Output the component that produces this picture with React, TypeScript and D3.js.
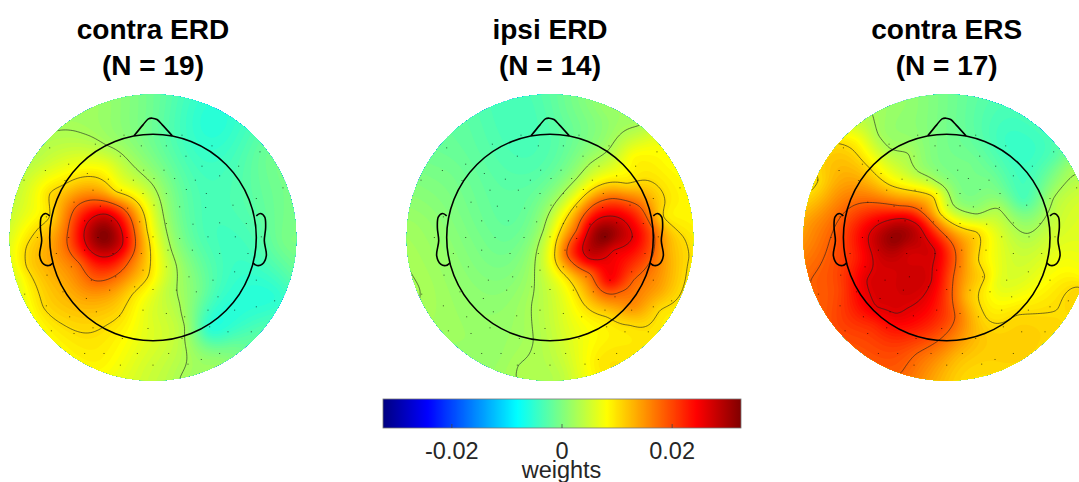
import React, { useMemo } from "react";
import * as d3 from "d3";

const W = 1079, H = 482;
const FONT = "'Liberation Sans', Arial, sans-serif";

// Colour limits and contour levels
const colorLimit = 0.0325;
const contourLevels = [0.003, 0.0105, 0.0185, 0.0265];
const colorTicks = [-0.02, 0, 0.02];

// Samples of the weights: [x, y, weight], in read-off units (disc radius = 430)
const L0 = contourLevels[0], L1 = contourLevels[1], L2 = contourLevels[2], L3 = contourLevels[3];
const contraErd: number[][] = [
  [170,122,L0],[250,130,L0],[320,165,L0],[390,215,L0],[460,285,L0],[490,370,L0],[515,480,L0],[530,525,L0],[540,640,L0],[555,710,L0],[560,780,L0],[542,860,L0],
  [150,310,L1],[190,285,L1],[320,278,L1],[350,305,L1],[420,345,L1],[442,420,L1],[445,560,L1],[400,610,L1],[365,670,L1],[320,705,L1],[190,703,L1],[130,650,L1],[80,530,L1],[80,470,L1],[120,410,L1],[150,380,L1],
  [205,420,L2],[225,355,L2],[295,330,L2],[370,355,L2],[405,430,L2],[390,510,L2],[280,570,L2],[240,520,L2],
  [253,440,L3],[275,385,L3],[320,372,L3],[365,420,L3],[368,465,L3],[320,500,L3],[270,480,L3],
  [310,440,0.0325],[300,620,0.0145],[200,600,0.0135],
  [640,100,-0.0055],[800,200,-0.001],[720,600,-0.005],[630,720,-0.005],[830,620,-0.005],[870,450,0.0],[760,440,-0.003],[600,450,-0.0025],[700,350,-0.003],[460,60,-0.001],[300,60,0.002],
  [120,200,0.004],[170,200,0.0052],[220,200,0.006],[70,300,0.0055],[100,350,0.0075],[35,440,0.0065],[50,560,0.0068],[100,660,0.0085],
  [300,820,0.009],[460,670,0.006],[440,830,0.0055],[760,780,-0.001],[600,600,-0.0005],[180,780,0.0085],[500,600,0.0045],[320,230,0.0075],
  [655,822,0.002],[720,840,0.0005],[600,770,0.0005],[700,770,-0.001],[890,440,0.0],[850,300,-0.0005],[880,560,-0.002],[800,740,-0.0015],[640,30,-0.005],[500,15,-0.002],[300,40,0.002],[200,90,0.0025],[120,170,0.0035],[250,840,0.0085],[350,850,0.0075],[500,870,0.004],[610,865,0.002],
];
const ipsiErd: number[][] = [
  [720,105,L0],[625,180,L0],[570,220,L0],[530,265,L0],[480,320,L0],[430,420,L0],[405,520,L0],[395,640,L0],[400,750,L0],[355,825,L0],[348,858,L0],
  [465,480,L1],[490,400,L1],[540,330,L1],[600,285,L1],[680,280,L1],[780,295,L1],[795,340,L1],[790,380,L1],[850,440,L1],[867,500,L1],[850,590,L1],[780,660,L1],[690,705,L1],[620,680,L1],[550,640,L1],[500,560,L1],
  [500,490,L2],[530,420,L2],[580,345,L2],[640,325,L2],[720,350,L2],[760,420,L2],[760,490,L2],[700,570,L2],[660,605,L2],[620,610,L2],[570,550,L2],[520,520,L2],
  [548,470,L3],[570,410,L3],[625,378,L3],[690,415,L3],[697,440,L3],[640,480,L3],[610,505,L3],[565,505,L3],
  [615,440,0.0325],[630,570,0.0245],[800,480,0.014],[780,600,0.014],[700,650,0.0155],
  [350,50,-0.0035],[200,100,-0.002],[150,250,-0.0005],[50,400,0.002],[60,600,0.003],[250,450,-0.0005],[350,300,-0.002],[300,800,0.002],[200,750,0.002],[500,60,-0.001],[600,80,0.001],
  [700,200,0.0085],[800,220,0.0085],[860,350,0.009],[650,780,0.0098],[600,820,0.0098],[480,800,0.0048],[770,740,0.0098],[500,700,0.0065],
  [25,440,0.0025],[40,560,0.003],[30,350,0.0015],[100,700,0.0025],[100,200,-0.0008],[200,830,0.0015],[450,15,-0.002],[620,50,0.002],[780,160,0.0075],[878,450,0.0098],[878,530,0.0098],[840,660,0.0095],[480,860,0.004],
];
const contraErs: number[][] = [
  [248,75,L0],[265,135,L0],[300,175,L0],[355,190,L0],[385,245,L0],[440,275,L0],[490,345,L0],[560,372,L0],[625,355,L0],[665,400,L0],[712,430,L0],[760,390,L0],[790,325,L0],[855,255,L0],
  [145,160,L1],[240,235,L1],[300,285,L1],[430,320,L1],[450,370,L1],[560,425,L1],[570,470,L1],[565,510,L1],[585,560,L1],[565,620,L1],[590,685,L1],[680,675,L1],[800,660,L1],[867,590,L1],
  [65,300,L1],[85,270,L1],[80,255,L1],
  [62,570,L2],[130,420,L2],[170,360,L2],[330,347,L2],[400,370,L2],[470,440,L2],[490,560,L2],[495,680,L2],[440,755,L2],[380,790,L2],[333,848,L2],
  [235,440,L3],[270,400,L3],[340,385,L3],[385,405,L3],[435,480,L3],[425,570,L3],[350,655,L3],[320,670,L3],[260,650,L3],[230,570,L3],[245,490,L3],
  [315,450,0.0315],[350,560,0.0278],[300,550,0.0272],[350,480,0.028],[385,500,0.0272],[290,620,0.027],
  [640,150,-0.004],[800,200,-0.002],[700,330,-0.003],[500,50,-0.001],[350,40,0.0015],[540,220,-0.0005],[600,270,-0.0005],[740,90,-0.003],[840,240,0.0025],[500,200,-0.0005],
  [880,300,0.005],[890,450,0.0065],[880,560,0.0085],[700,550,0.006],[620,580,0.007],[780,450,0.0055],[830,500,0.0075],
  [180,110,0.006],[200,150,0.0085],[50,270,0.0095],[100,220,0.0115],[130,300,0.014],[40,440,0.015],[60,400,0.015],
  [100,650,0.019],[150,700,0.0205],[250,700,0.0225],[300,780,0.0205],[150,600,0.0205],[200,500,0.023],[200,780,0.0195],[500,800,0.013],[650,780,0.0115],[800,730,0.0108],[820,780,0.0102],[650,850,0.0108],[500,860,0.0115],[530,620,0.013],[600,720,0.0112],[850,690,0.0105],
];

const panelTitles = [["contra ERD", "(N = 19)"], ["ipsi ERD", "(N = 14)"], ["contra ERS", "(N = 17)"]];
const panelSamples = [contraErd, ipsiErd, contraErs];
const panelReadCentre = [460, 450, 470]; // x of the disc centre in read-off units
const panelCentre = [153, 550, 946.7];
const readCentreY = 442;

// Electrode positions, relative to x = 450 / y = 442 in read-off units
const electrodes: number[][] = [
  [363,135],[537,135],[140,173],[277,162],[415,167],[490,167],[627,167],[771,185],[197,222],[352,198],[549,198],[707,228],[127,241],[253,250],[422,240],[483,240],[597,228],[650,257],[63,270],[186,271],[316,267],[391,270],[453,265],[515,265],[577,270],[840,293],[270,300],[355,300],[420,310],[490,310],[550,298],[610,310],[213,336],[292,348],[374,354],[453,345],[530,350],[608,352],[690,345],[760,325],[130,380],[245,392],[325,392],[410,395],[490,400],[570,402],[650,398],[730,400],[103,442],[197,442],[285,442],[372,442],[450,440],[530,445],[615,440],[697,440],[775,440],[160,490],[245,480],[330,490],[415,490],[495,480],[568,480],[650,490],[735,490],[132,555],[265,570],[205,530],[338,560],[420,540],[490,530],[558,560],[630,570],[695,545],[760,570],[65,612],[180,605],[250,625],[320,600],[395,590],[450,598],[520,600],[580,605],[645,620],[713,605],[815,632],[130,647],[200,680],[280,665],[350,677],[420,660],[490,670],[545,680],[615,660],[695,660],[760,650],[145,722],[213,730],[270,713],[358,745],[435,715],[537,745],[620,710],[675,725],[745,725],[245,790],[303,790],[403,790],[497,790],[595,808],[352,825],[450,825],[555,822],[650,790],
];

// Head outline in read-off units, relative to the disc centre
const noseOutline = [[-57,-305],[-30,-338],[-14,-356],[-2,-358],[12,-354],[28,-338],[58,-305]];
const leftEarOutline = [[-310,-65],[-322,-72],[-335,-62],[-338,-30],[-334,10],[-340,55],[-328,80],[-312,84],[-300,76]];
const rightEarOutline = leftEarOutline.map(([x, y]) => [-x, y]);
const headRadius = 310;

// Layout
const discRadius = 143.3;
const discCy = 237.5;
const barX: [number, number] = [383, 741];
const barY: [number, number] = [399, 428];

const jet = d3.scaleLinear<string>()
  .domain([0, 0.125, 0.375, 0.625, 0.875, 1].map((t) => -colorLimit + 2 * colorLimit * t))
  .range(["#000080", "#0000ff", "#00ffff", "#ffff00", "#ff0000", "#800000"])
  .clamp(true);

function solve(A: number[][], b: number[]) {
  const n = b.length;
  for (let i = 0; i < n; i++) {
    let p = i;
    for (let r = i + 1; r < n; r++) if (Math.abs(A[r][i]) > Math.abs(A[p][i])) p = r;
    [A[i], A[p]] = [A[p], A[i]];
    [b[i], b[p]] = [b[p], b[i]];
    for (let r = i + 1; r < n; r++) {
      const f = A[r][i] / A[i][i];
      if (f === 0) continue;
      for (let c = i; c < n; c++) A[r][c] -= f * A[i][c];
      b[r] -= f * b[i];
    }
  }
  const x = new Array(n).fill(0);
  for (let i = n - 1; i >= 0; i--) {
    let s = b[i];
    for (let c = i + 1; c < n; c++) s -= A[i][c] * x[c];
    x[i] = s / A[i][i];
  }
  return x;
}

const phi = (r2: number) => (r2 > 1e-12 ? 0.5 * r2 * Math.log(r2) : 0);

// Spline surface through the read-off samples, sampled on a square grid
function buildField(samples: number[][], cx: number, n: number) {
  const pts = samples.map(([x, y]) => [(x - cx) / 430, (y - readCentreY) / 430]);
  const m = pts.length;
  const A: number[][] = [];
  for (let i = 0; i < m + 3; i++) A.push(new Array(m + 3).fill(0));
  for (let i = 0; i < m; i++) {
    for (let j = 0; j < m; j++) {
      const dx = pts[i][0] - pts[j][0], dy = pts[i][1] - pts[j][1];
      A[i][j] = phi(dx * dx + dy * dy) + (i === j ? 0.0006 : 0);
    }
    A[i][m] = A[m][i] = 1;
    A[i][m + 1] = A[m + 1][i] = pts[i][0];
    A[i][m + 2] = A[m + 2][i] = pts[i][1];
  }
  const b = samples.map((s) => s[2]).concat([0, 0, 0]);
  const w = solve(A, b);
  const vals = new Float64Array(n * n);
  const ext = 1.04;
  for (let gy = 0; gy < n; gy++) {
    const y = -ext + (2 * ext * gy) / (n - 1);
    for (let gx = 0; gx < n; gx++) {
      const x = -ext + (2 * ext * gx) / (n - 1);
      let s = w[m] + w[m + 1] * x + w[m + 2] * y;
      for (let i = 0; i < m; i++) {
        const dx = x - pts[i][0], dy = y - pts[i][1];
        s += w[i] * phi(dx * dx + dy * dy);
      }
      vals[gy * n + gx] = s;
    }
  }
  return { vals, ext };
}

const GRID = 180;
const fillLevels = d3.range(0, 129).map((i) => -colorLimit + (2 * colorLimit * i) / 128);

function Panel({ index }: { index: number }) {
  const cx = panelCentre[index];
  const rc = panelReadCentre[index];
  const { fills, lines, ext } = useMemo(() => {
    const { vals, ext } = buildField(panelSamples[index], rc, GRID);
    const gen = d3.contours().size([GRID, GRID]);
    const values = Array.from(vals) as unknown as number[];
    return {
      fills: fillLevels.map((t) => gen.contour(values, t)),
      lines: contourLevels.map((t) => gen.contour(values, t)),
      ext,
    };
  }, [index, rc]);

  const scale = (discRadius * 2 * ext) / (GRID - 1);
  const off = -discRadius * ext - 0.5 * scale;
  const path = d3.geoPath(d3.geoTransform({
    point(x, y) { this.stream.point(off + x * scale, off + y * scale); },
  }));
  const read = d3.scaleLinear().domain([-430, 430]).range([-discRadius, discRadius]);
  const line = d3.line<number[]>().x((d) => read(d[0])).y((d) => read(d[1])).curve(d3.curveCatmullRom);
  const clipId = `disc-${index}`;

  return (
    <g transform={`translate(${cx},${discCy})`}>
      <clipPath id={clipId}><circle r={discRadius} /></clipPath>
      <g clipPath={`url(#${clipId})`}>
        <circle r={discRadius} fill={jet(-colorLimit) as string} />
        {fills.map((f, i) => (
          <path key={i} d={path(f as any) || ""} fill={jet(fillLevels[i]) as string} />
        ))}
        {lines.map((f, i) => (
          <path key={i} d={path(f as any) || ""} fill="none" stroke="#222" strokeOpacity={0.62} strokeWidth={1} />
        ))}
      </g>
      {electrodes.map(([x, y], i) => (
        <rect key={i} x={read(x - 450) - 0.5} y={read(y - readCentreY) - 0.5} width={1} height={1} fill="#000" fillOpacity={0.65} />
      ))}
      <circle r={read(headRadius)} fill="none" stroke="#000" strokeWidth={1.6} />
      <path d={line(noseOutline) || ""} fill="none" stroke="#000" strokeWidth={1.6} />
      <path d={line(leftEarOutline) || ""} fill="none" stroke="#000" strokeWidth={1.6} />
      <path d={line(rightEarOutline) || ""} fill="none" stroke="#000" strokeWidth={1.6} />
      <text textAnchor="middle" x={0} y={-199} fontFamily={FONT} fontWeight="bold" fontSize={28} fill="#000">{panelTitles[index][0]}</text>
      <text textAnchor="middle" x={0} y={-163} fontFamily={FONT} fontWeight="bold" fontSize={28} fill="#000">{panelTitles[index][1]}</text>
    </g>
  );
}

function ColorBar() {
  const x = d3.scaleLinear().domain([-colorLimit, colorLimit]).range(barX);
  const steps = d3.range(0, 256).map((i) => -colorLimit + (2 * colorLimit * i) / 255);
  return (
    <g>
      <defs>
        <linearGradient id="jetBar" x1="0" x2="1" y1="0" y2="0">
          {steps.map((v, i) => (
            <stop key={i} offset={i / 255} stopColor={jet(v) as string} />
          ))}
        </linearGradient>
      </defs>
      <rect x={barX[0]} y={barY[0]} width={barX[1] - barX[0]} height={barY[1] - barY[0]} fill="url(#jetBar)" stroke="#777" strokeWidth={0.8} />
      {colorTicks.map((t) => (
        <g key={t}>
          <line x1={x(t)} x2={x(t)} y1={barY[1]} y2={barY[1] - 4} stroke="#444" strokeWidth={0.8} />
          <text x={x(t)} y={459} textAnchor="middle" fontFamily={FONT} fontSize={23.5} fill="#262626">{t === 0 ? "0" : String(t)}</text>
        </g>
      ))}
      <text x={561.5} y={478} textAnchor="middle" fontFamily={FONT} fontSize={23.5} fill="#262626">weights</text>
    </g>
  );
}

export default function App() {
  return (
    <svg width={W} height={H} viewBox={`0 0 ${W} ${H}`} style={{ position: "absolute", left: 0, top: 0, background: "#fff", display: "block" }}>
      {panelTitles.map((_, i) => <Panel key={i} index={i} />)}
      <ColorBar />
    </svg>
  );
}
